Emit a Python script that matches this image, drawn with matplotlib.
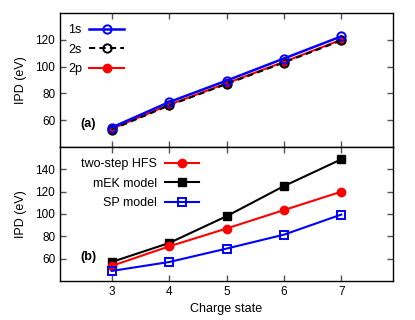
import matplotlib
matplotlib.use("Agg")
import matplotlib.pyplot as plt

plt.rcParams['font.family'] = ['Liberation Sans', 'DejaVu Sans']
plt.rcParams['font.size'] = 8.5

charge = [3, 4, 5, 6, 7]

# panel (a)
ipd_1s = [54.5, 73.5, 89.5, 106, 122.5]
ipd_2s = [53, 71, 87, 103, 119.5]
ipd_2p = [53.5, 71.5, 87.5, 103.5, 120]

# panel (b)
ipd_hfs = [53.5, 71, 87, 103.5, 120]
ipd_mek = [57, 74, 98, 125, 149]
ipd_sp = [49, 57, 69, 81.5, 99.5]

fig = plt.figure(figsize=(4.15, 3.2), dpi=100)
ax1 = fig.add_axes([0.1446, 0.5406, 0.8024, 0.419])
ax2 = fig.add_axes([0.1446, 0.1219, 0.8024, 0.4187])

ax1.plot(charge, ipd_2p, color='red', lw=1.5, marker='o', ms=6, label='2p', zorder=3)
ax1.plot(charge, ipd_2s, color='black', lw=1.5, ls='--', dashes=(3, 2), marker='o', ms=6,
         mfc='none', mew=1.4, label='2s', zorder=4)
ax1.plot(charge, ipd_1s, color='blue', lw=1.8, marker='o', ms=6, mfc='none', mew=1.4,
         label='1s', zorder=5)

ax2.plot(charge, ipd_hfs, color='red', lw=1.5, marker='o', ms=6, label='two-step HFS', zorder=4)
ax2.plot(charge, ipd_mek, color='black', lw=1.5, marker='s', ms=6, label='mEK model', zorder=3)
ax2.plot(charge, ipd_sp, color='blue', lw=1.5, marker='s', ms=6, mfc='none', mew=1.4,
         label='SP model', zorder=5)

for ax in (ax1, ax2):
    ax.set_xlim(2.1, 7.9)
    ax.set_xticks(charge)
    ax.tick_params(direction='in', length=4, width=1, top=True, right=True,
                   color='#555555', labelsize=8.5)
    for sp in ax.spines.values():
        sp.set_linewidth(1)
    ax.set_ylabel('IPD (eV)', fontsize=9, labelpad=6)

ax1.set_ylim(40, 140)
ax1.set_yticks([60, 80, 100, 120])
ax1.tick_params(labelbottom=False)
ax2.set_ylim(40, 160)
ax2.set_yticks([60, 80, 100, 120, 140])
ax2.set_xlabel('Charge state', fontsize=9)

h, l = ax1.get_legend_handles_labels()
ax1.legend(h[::-1], l[::-1], loc='upper left', markerfirst=False, frameon=False,
           handlelength=2.75, handletextpad=0.6, fontsize=9, labelspacing=0.6,
           borderaxespad=0.5, bbox_to_anchor=(-0.01, 1.0))
ax2.legend(loc='upper left', markerfirst=False, frameon=False,
           handlelength=2.75, handletextpad=0.6, fontsize=9, labelspacing=0.6,
           borderaxespad=0.5, bbox_to_anchor=(0.03, 1.0))

ax1.text(0.06, 0.15, '(a)', transform=ax1.transAxes, fontsize=9, fontweight='bold')
ax2.text(0.06, 0.16, '(b)', transform=ax2.transAxes, fontsize=9, fontweight='bold')

fig.savefig('out.png', dpi=100)
